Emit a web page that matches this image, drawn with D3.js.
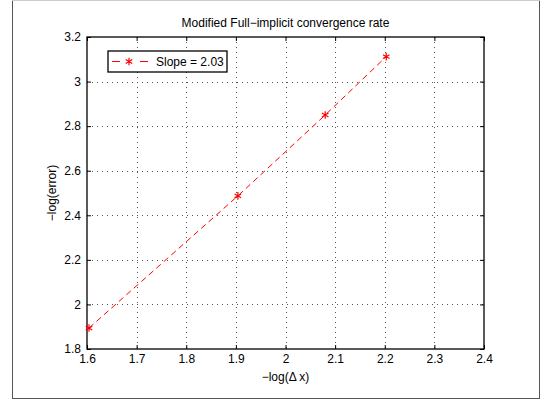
<!DOCTYPE html>
<html>
<head>
<meta charset="utf-8">
<script src="https://cdn.jsdelivr.net/npm/d3@7"></script>
<style>
body { margin: 0; background: #fff; }
text { font-family: "Liberation Sans", Arial, Helvetica, sans-serif; }
</style>
</head>
<body>
<div id="chart"></div>
<script>
// Convergence data.
var logDx = [1.604, 1.904, 2.080, 2.203];
var logErr = [1.894, 2.487, 2.850, 3.112];
var xTicks = [1.6, 1.7, 1.8, 1.9, 2, 2.1, 2.2, 2.3, 2.4];
var yTicks = [1.8, 2, 2.2, 2.4, 2.6, 2.8, 3, 3.2];
var legendLabel = "Slope = 2.03";

var width = 541,
    height = 403,
    margin = {left: 87, top: 37, right: 57, bottom: 54},
    pw = width - margin.left - margin.right,
    ph = height - margin.top - margin.bottom;

var svg = d3.select("#chart").append("svg")
    .attr("width", width)
    .attr("height", height);

// Figure frame.
svg.append("rect")
    .attr("x", 12.5).attr("y", 0.5)
    .attr("width", 527).attr("height", 398)
    .style("fill", "#fff")
    .style("stroke", "#555")
    .style("stroke-width", 1);
svg.append("line")
    .attr("x1", 12).attr("x2", 540).attr("y1", 0.5).attr("y2", 0.5)
    .style("stroke", "#ccc");

var x = d3.scaleLinear().domain([1.6, 2.4]).range([0, pw]),
    y = d3.scaleLinear().domain([1.8, 3.2]).range([ph, 0]);

var g = svg.append("g")
    .attr("transform", "translate(" + margin.left + "," + margin.top + ")");

// Dotted grid.
g.selectAll(".gx").data(xTicks.slice(1, -1)).enter().append("line")
    .attr("x1", function (d) { return Math.round(x(d)) + 0.5; })
    .attr("x2", function (d) { return Math.round(x(d)) + 0.5; })
    .attr("y1", 0).attr("y2", ph)
    .style("stroke", "#555").style("stroke-dasharray", "1,4");
g.selectAll(".gy").data(yTicks.slice(1, -1)).enter().append("line")
    .attr("y1", function (d) { return Math.round(y(d)) + 0.5; })
    .attr("y2", function (d) { return Math.round(y(d)) + 0.5; })
    .attr("x1", 0).attr("x2", pw)
    .style("stroke", "#555").style("stroke-dasharray", "1,4");

// Axes, ticks inward on all four sides.
var fmt = function (d) { return String(+d.toFixed(1)); };
function styleAxis(sel) {
    sel.select(".domain").remove();
    sel.selectAll("line").style("stroke", "#000");
    sel.selectAll("text").style("font-size", "12px").style("fill", "#000");
}
g.append("g").attr("transform", "translate(0," + ph + ")")
    .call(d3.axisBottom(x).tickValues(xTicks).tickFormat(fmt).tickSizeInner(-4).tickPadding(5))
    .call(styleAxis);
g.append("g")
    .call(d3.axisTop(x).tickValues(xTicks).tickFormat("").tickSizeInner(-4))
    .call(styleAxis);
g.append("g")
    .call(d3.axisLeft(y).tickValues(yTicks).tickFormat(fmt).tickSizeInner(-4).tickPadding(6))
    .call(styleAxis);
g.append("g").attr("transform", "translate(" + pw + ",0)")
    .call(d3.axisRight(y).tickValues(yTicks).tickFormat("").tickSizeInner(-4))
    .call(styleAxis);

g.append("rect")
    .attr("width", pw).attr("height", ph)
    .style("fill", "none").style("stroke", "#000").style("stroke-width", 1.3);

// Data line and markers.
var pts = logDx.map(function (d, i) { return [d, logErr[i]]; });
g.append("path")
    .datum(pts)
    .attr("d", d3.line().x(function (d) { return x(d[0]); }).y(function (d) { return y(d[1]); }))
    .style("fill", "none").style("stroke", "#f00")
    .style("stroke-width", 1).style("stroke-dasharray", "6,4");

var star = d3.symbol().type(d3.symbolAsterisk).size(40);
g.selectAll(".pt").data(pts).enter().append("path")
    .attr("d", star)
    .attr("transform", function (d) { return "translate(" + x(d[0]) + "," + y(d[1]) + ")"; })
    .style("fill", "none").style("stroke", "#f00").style("stroke-width", 1.2);

// Legend.
var lg = svg.append("g").attr("transform", "translate(108,51)");
lg.append("rect").attr("width", 119).attr("height", 21)
    .style("fill", "#fff").style("stroke", "#000").style("stroke-width", 1.3);
lg.append("line").attr("x1", 4).attr("x2", 40).attr("y1", 10.5).attr("y2", 10.5)
    .style("stroke", "#f00").style("stroke-dasharray", "8,20");
lg.append("path").attr("d", star).attr("transform", "translate(21,10.5)")
    .style("fill", "none").style("stroke", "#f00").style("stroke-width", 1.2);
lg.append("text").attr("x", 48).attr("y", 15)
    .style("font-size", "12px").text(legendLabel);

// Titles.
svg.append("text").attr("x", margin.left + pw / 2).attr("y", 27)
    .attr("text-anchor", "middle").style("font-size", "12px")
    .text("Modified Full\u2212implicit convergence rate");
svg.append("text").attr("x", margin.left + pw / 2).attr("y", 381)
    .attr("text-anchor", "middle").style("font-size", "12px")
    .text("\u2212log(\u0394 x)");
svg.append("text")
    .attr("transform", "translate(56," + (margin.top + ph / 2) + ") rotate(-90)")
    .attr("text-anchor", "middle").style("font-size", "12px")
    .text("\u2212log(error)");
</script>
</body>
</html>
